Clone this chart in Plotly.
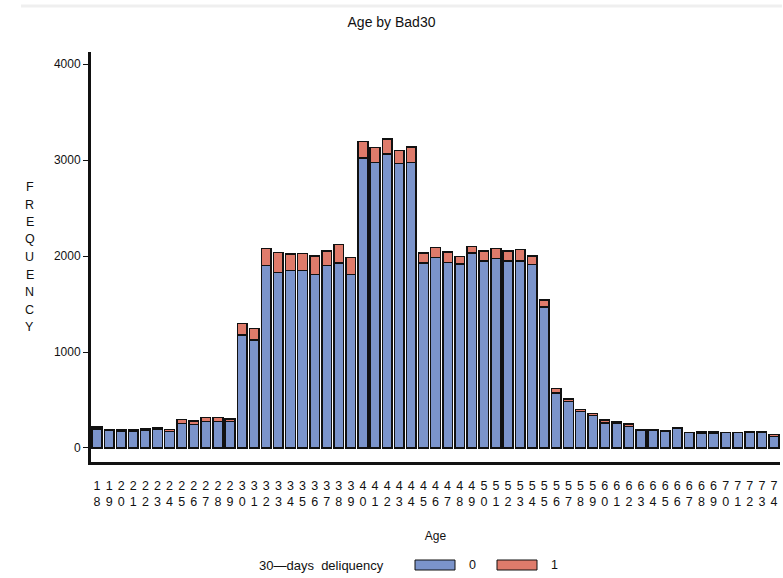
import plotly.graph_objects as go

ages = list(range(18, 75))
bad0 = [200, 185, 172, 172, 180, 200, 172, 255, 245, 275, 275, 278,
        1175, 1125, 1900, 1830, 1850, 1850, 1810, 1900, 1930, 1810,
        3020, 2975, 3065, 2965, 2975,
        1925, 1985, 1935, 1915, 2030, 1950, 1975, 1950, 1950, 1910,
        1470, 575, 485, 378, 340, 258, 258, 225,
        190, 185, 178, 208, 160, 155, 157, 160, 160, 160, 160, 122]
bad1 = [20, 8, 18, 18, 20, 12, 20, 40, 35, 45, 45, 22,
        120, 120, 180, 205, 170, 175, 190, 155, 190, 175,
        175, 155, 155, 135, 160,
        105, 105, 105, 80, 70, 100, 105, 100, 120, 90,
        70, 45, 25, 25, 20, 32, 15, 25,
        3, 3, 3, 3, 3, 18, 17, 3, 3, 12, 5, 18]
tick_text = [f"{str(a)[0]}<br>{str(a)[1]}" for a in ages]
y_ticks = [0, 1000, 2000, 3000, 4000]

BLUE = "#7B94CB"
RED = "#DF7B6B"
FONT = "Liberation Sans, Arial, sans-serif"

fig = go.Figure()
fig.add_bar(x=ages, y=bad0, name="0", marker=dict(color=BLUE, line=dict(color="#111", width=1.5)), width=0.8)
fig.add_bar(x=ages, y=bad1, name="1", marker=dict(color=RED, line=dict(color="#111", width=1.5)), width=0.8)

fig.update_layout(
    width=783, height=578,
    barmode="stack",
    showlegend=False,
    plot_bgcolor="white", paper_bgcolor="white",
    margin=dict(l=91, r=3, t=52, b=116, autoexpand=False),
    font=dict(family=FONT, size=12, color="#111"),
    title=dict(text="Age by Bad30", x=0.5, xanchor="center", y=0.961, yanchor="middle",
               font=dict(size=14, family=FONT, color="#111")),
    xaxis=dict(range=[17.5, 74.5], tickmode="array", tickvals=ages, ticktext=tick_text,
               showline=True, linecolor="#111", linewidth=3, ticks="", showgrid=False,
               zeroline=False, ticklabelstandoff=10, tickfont=dict(size=12.5), automargin=False,
               title=dict(text="Age", font=dict(size=12), standoff=24)),
    yaxis=dict(range=[-146, 4126], tickmode="array", tickvals=y_ticks, automargin=False,
               showline=True, linecolor="#111", linewidth=3, ticks="outside", ticklen=5,
               tickcolor="#111", tickwidth=1, showgrid=False, zeroline=False,
               tickfont=dict(size=12)),
)

# vertical y-axis label, one letter per line
for i, ch in enumerate("FREQUENCY"):
    py = 187 + i * 17.5
    fig.add_annotation(text=ch, xref="paper", yref="paper",
                       x=(30 - 91) / 689, y=(462 - py) / 410, xanchor="center", yanchor="middle",
                       showarrow=False, font=dict(size=12.5, family=FONT))

# top page border line
fig.add_shape(type="line", xref="paper", yref="paper", x0=-0.1016, x1=1.003, y0=1.1122, y1=1.1122,
              line=dict(color="#efefef", width=3))

# custom legend
ly = (462 - 565) / 410
def px(x):
    return (x - 91) / 689
fig.add_annotation(text="30\u2014days  deliquency", xref="paper", yref="paper", x=px(386), y=ly,
                   xanchor="right", yanchor="middle", showarrow=False, font=dict(size=13, family=FONT))
for x0, col, lab in [(415, BLUE, "0"), (497, RED, "1")]:
    fig.add_shape(type="rect", xref="paper", yref="paper", x0=px(x0), x1=px(x0 + 40),
                  y0=ly - 5 / 410, y1=ly + 5 / 410, fillcolor=col, line=dict(color="#111", width=1))
    fig.add_annotation(text=lab, xref="paper", yref="paper", x=px(x0 + 52), y=ly,
                       xanchor="left", yanchor="middle", showarrow=False, font=dict(size=12.5, family=FONT))

fig.write_html("out.html", config={"displayModeBar": False},
               post_script="document.body.style.margin='0px';")
